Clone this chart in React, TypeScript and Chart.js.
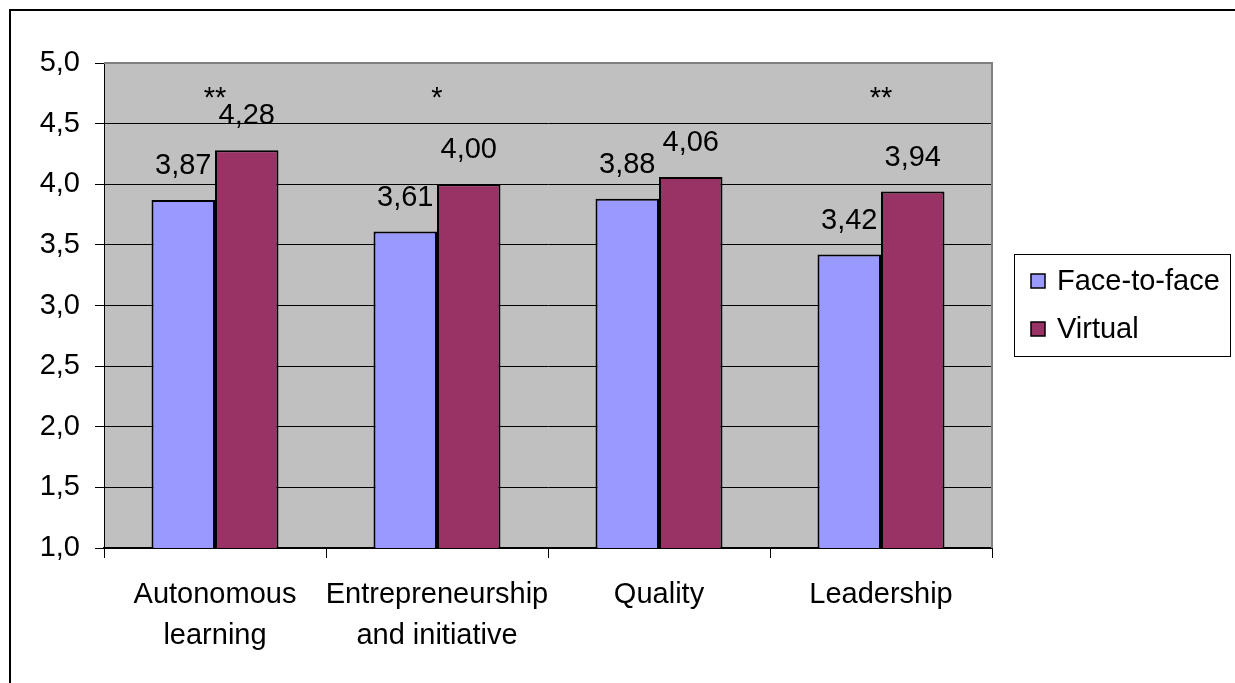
import React, { useEffect, useRef } from "react";
import { Chart, registerables } from "chart.js";

Chart.register(...registerables);

const categories: string[][] = [
  ["Autonomous", "learning"],
  ["Entrepreneurship", "and initiative"],
  ["Quality"],
  ["Leadership"],
];
const faceToFace: number[] = [3.87, 3.61, 3.88, 3.42];
const virtualVals: number[] = [4.28, 4.0, 4.06, 3.94];
const significance: string[] = ["**", "*", "", "**"];
const seriesNames: string[] = ["Face-to-face", "Virtual"];
const yTicks: number[] = [1.0, 1.5, 2.0, 2.5, 3.0, 3.5, 4.0, 4.5, 5.0];

const FONT = "'Liberation Sans', Arial, sans-serif";
const FS = 29;
const BLUE = "#9999FF";
const MAROON = "#993366";
const PLOT_BG = "#C0C0C0";
const SIG_LEVEL = 4.64;

const fmt = (v: number, d: number) => v.toFixed(d).replace(".", ",");

const decorPlugin = {
  id: "decor",
  beforeDraw(chart: any) {
    const { ctx, chartArea } = chart;
    ctx.save();
    ctx.fillStyle = "#FFFFFF";
    ctx.fillRect(0, 0, chart.width, chart.height);
    ctx.strokeStyle = "#000";
    ctx.lineWidth = 2;
    ctx.strokeRect(10, 10, chart.width + 20, chart.height + 20);
    ctx.fillStyle = PLOT_BG;
    ctx.fillRect(chartArea.left, chartArea.top, chartArea.right - chartArea.left, chartArea.bottom - chartArea.top);
    ctx.restore();
  },
  beforeDatasetsDraw(chart: any) {
    const { ctx, chartArea } = chart;
    ctx.save();
    ctx.strokeStyle = "#808080";
    ctx.lineWidth = 2;
    ctx.beginPath();
    ctx.moveTo(chartArea.left, chartArea.top);
    ctx.lineTo(chartArea.right, chartArea.top);
    ctx.lineTo(chartArea.right, chartArea.bottom);
    ctx.stroke();
    ctx.restore();
  },
  afterDatasetsDraw(chart: any) {
    const { ctx } = chart;
    ctx.save();
    ctx.fillStyle = "#000";
    ctx.font = `${FS}px ${FONT}`;
    ctx.textAlign = "center";
    ctx.textBaseline = "alphabetic";
    chart.data.datasets.forEach((ds: any, di: number) => {
      const meta = chart.getDatasetMeta(di);
      meta.data.forEach((bar: any, i: number) => {
        ctx.fillText(fmt(ds.data[i], 2), bar.x, bar.y - 26);
      });
    });
    const xs = chart.scales.x;
    const ys = chart.scales.y;
    significance.forEach((s, i) => {
      if (!s) return;
      ctx.fillText(s, xs.getPixelForValue(i), ys.getPixelForValue(SIG_LEVEL));
    });
    const lx = 1014.5, ly = 254.5, lw = 216, lh = 102;
    ctx.fillStyle = "#FFFFFF";
    ctx.fillRect(lx, ly, lw, lh);
    ctx.strokeStyle = "#000";
    ctx.lineWidth = 1;
    ctx.strokeRect(lx, ly, lw, lh);
    const rows = [281, 329];
    ctx.textAlign = "left";
    ctx.textBaseline = "middle";
    chart.data.datasets.forEach((ds: any, di: number) => {
      const cy = rows[di];
      ctx.fillStyle = ds.backgroundColor;
      ctx.fillRect(1031, cy - 7, 14, 14);
      ctx.strokeStyle = "#000";
      ctx.lineWidth = 1.5;
      ctx.strokeRect(1031, cy - 7, 14, 14);
      ctx.fillStyle = "#000";
      ctx.fillText(ds.label, 1057, cy + 1);
    });
    ctx.restore();
  },
};

export default function App() {
  const ref = useRef<HTMLCanvasElement | null>(null);
  useEffect(() => {
    if (!ref.current) return;
    const chart = new Chart(ref.current, {
      type: "bar",
      data: {
        labels: categories,
        datasets: [
          {
            label: seriesNames[0],
            data: faceToFace,
            backgroundColor: BLUE,
            borderColor: "#000",
            borderWidth: 2,
            categoryPercentage: 0.572,
            barPercentage: 1.0,
          },
          {
            label: seriesNames[1],
            data: virtualVals,
            backgroundColor: MAROON,
            borderColor: "#000",
            borderWidth: 2,
            categoryPercentage: 0.572,
            barPercentage: 1.0,
          },
        ],
      },
      options: {
        responsive: false,
        animation: false,
        layout: { padding: { left: 0, top: 63, right: 1235 - 992, bottom: 0 } },
        plugins: { legend: { display: false }, tooltip: { enabled: false } },
        scales: {
          x: {
            offset: true,
            grid: {
              offset: true,
              drawOnChartArea: false,
              drawTicks: true,
              tickLength: 10,
              color: "#000",
              lineWidth: 1,
            },
            border: { display: true, color: "#000", width: 2 },
            ticks: {
              color: "#000",
              font: { family: FONT, size: FS, lineHeight: 1.41 },
              padding: 17,
              maxRotation: 0,
              autoSkip: false,
            },
            afterFit: (s: any) => {
              s.height = 683 - 548;
            },
          },
          y: {
            min: 1,
            max: 5,
            afterBuildTicks: (s: any) => {
              s.ticks = yTicks.map((v) => ({ value: v }));
            },
            grid: {
              color: (c: any) => (c.tick && c.tick.value === 5 ? "rgba(0,0,0,0)" : "#000"),
              tickColor: "#000",
              lineWidth: 1,
              drawTicks: true,
              tickLength: 9,
            },
            border: { display: true, color: "#000", width: 1 },
            ticks: {
              color: "#000",
              font: { family: FONT, size: FS },
              padding: 15,
              callback: (v: any) => fmt(Number(v), 1),
            },
            afterFit: (s: any) => {
              s.width = 104;
            },
          },
        },
      },
      plugins: [decorPlugin],
    });
    return () => chart.destroy();
  }, []);
  return (
    <div style={{ position: "absolute", left: 0, top: 0, width: 1235, height: 683, background: "#fff" }}>
      <canvas ref={ref} width={1235} height={683} style={{ display: "block" }} />
    </div>
  );
}
